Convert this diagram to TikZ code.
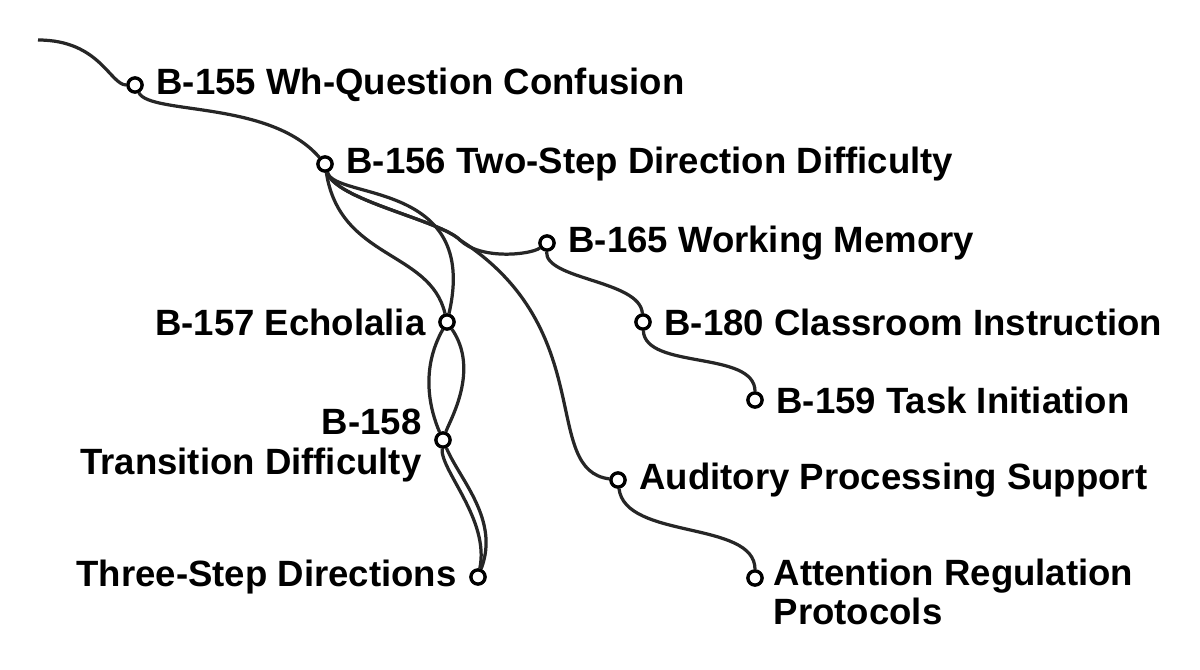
\documentclass[tikz,border=0pt]{standalone}
\usepackage{fontspec}
\setmainfont{Liberation Sans}
\usetikzlibrary{positioning}
\begin{document}
\begin{tikzpicture}[
  x=0.025cm, y=-0.025cm,
  line width=2.3pt,
  dot/.style={
    draw,
    fill=white,
    circle,
    inner sep=0pt,
    minimum size=10pt
    },
  lbl/.style={
    font=\fontsize{26}{28}\selectfont\bfseries,
    inner sep=0pt,
    align=#1
    },
  link/.style={draw=black!85}
]
\useasboundingbox (0,0) rectangle (1200,669);

\coordinate (start) at (38,40);
\node[dot] (b155) at (135,85) {};
\node[dot] (b156) at (325,164) {};
\node[dot] (b165) at (547,243) {};
\node[dot] (b180) at (643,322) {};
\node[dot] (b159) at (755,400) {};
\node[dot] (b157) at (447,322) {};
\node[dot] (b158) at (443,440) {};
\node[dot] (three) at (478,577) {};
\node[dot] (aud) at (618,480) {};
\node[dot] (att) at (755,578) {};

% connectors
\draw[link] (start) .. controls (100,40) and (110,85) .. (b155);
\draw[link] (b155) .. controls (150,115) and (270,100) .. (b156);
\draw[link] (b156) .. controls (340,260) and (430,250) .. (b157);
\draw[link] (b156) .. controls (335,200) and (480,180) .. (b157);
\draw[link] (b156) .. controls (335,200) and (440,220) .. (460,240)
  .. controls (480,260) and (530,255) .. (b165);
\draw[link] (b156) .. controls (335,200) and (440,220) .. (460,240)
  .. controls (600,330) and (540,470) .. (aud);
\draw[link] (b157) .. controls (420,370) and (430,410) .. (b158);
\draw[link] (b157) .. controls (480,370) and (450,420) .. (b158);
\draw[link] (b158) .. controls (460,480) and (500,520) .. (three);
\draw[link] (b158) .. controls (440,470) and (490,520) .. (three);
\draw[link] (b165) .. controls (545,280) and (640,280) .. (b180);
\draw[link] (b180) .. controls (645,370) and (755,350) .. (b159);
\draw[link] (aud) .. controls (625,540) and (755,520) .. (att);
\foreach \n in {b155,b156,b165,b180,b159,b157,b158,three,aud,att}
  \node[dot] at (\n) {};

% labels
\node[lbl=left, right=8pt of b155] (t155) {B-155 Wh-Question Confusion};
\node[lbl=left, right=8pt of b156] (t156) {B-156 Two-Step Direction Difficulty};
\node[lbl=left, right=8pt of b165] (t165) {B-165 Working Memory};
\node[lbl=left, right=8pt of b180] (t180) {B-180 Classroom Instruction};
\node[lbl=left, right=8pt of b159] (t159) {B-159 Task Initiation};
\node[lbl=left, right=8pt of aud] (taud) {Auditory Processing Support};
\node[lbl=left, anchor=west] (tatt) at ([xshift=6pt,yshift=-10pt]att.east) {Attention Regulation\\Protocols};
\node[lbl=right, left=8pt of b157] (t157) {B-157 Echolalia};
\node[lbl=right, anchor=east] (t158) at ([xshift=-8pt,yshift=-4pt]b158.west) {B-158\\Transition Difficulty};
\node[lbl=right, left=8pt of three] (tthree) {Three-Step Directions};
\end{tikzpicture}
\end{document}
